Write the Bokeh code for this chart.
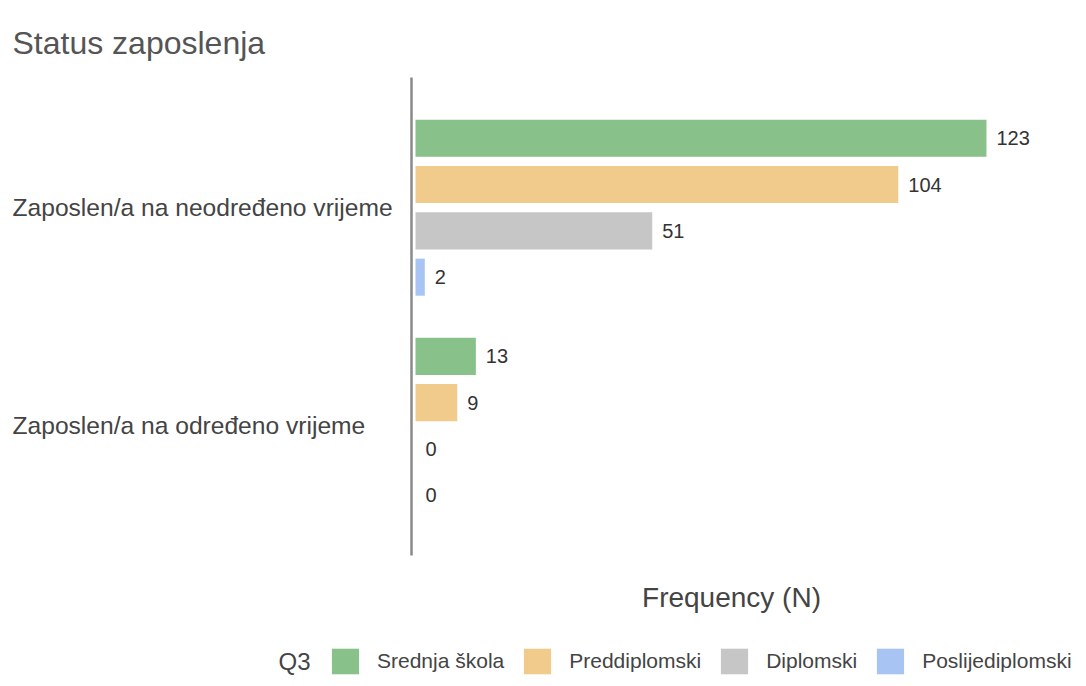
from bokeh.plotting import figure
from bokeh.models import ColumnDataSource, Range1d, Label, Legend, LegendItem
from bokeh.transform import dodge
from bokeh.embed import file_html
from bokeh.resources import INLINE
from bokeh.core.properties import value

# ---- data ----
title_text = "Status zaposlenja"
categories = ["Zaposlen/a na neodređeno vrijeme", "Zaposlen/a na određeno vrijeme"]
series_names = ["Srednja škola", "Preddiplomski", "Diplomski", "Poslijediplomski"]
series_values = [
    [123, 13],   # Srednja škola
    [104, 9],    # Preddiplomski
    [51, 0],     # Diplomski
    [2, 0],      # Poslijediplomski
]
series_colors = ["#88c28a", "#f0cb8c", "#c6c6c6", "#a7c4f2"]
x_label = "Frequency (N)"
legend_title = "Q3"

FONT = "Liberation Sans"
W, H = 1078, 678

# category positions (top to bottom)
cat_pos = [2, 1]

# layout constants (in data units of the full-canvas frame)
PX_X = 4.642            # pixels per frequency unit
PX_Y = 218.1            # pixels per category step
X0_PX = 415.0           # pixel column of x = 0
Y2_PX = 207.2           # pixel row of the first category
x_start = -X0_PX / PX_X
x_end = (W - X0_PX) / PX_X
y_top = cat_pos[0] + Y2_PX / PX_Y
y_bot = cat_pos[0] - (H - Y2_PX) / PX_Y


def px_to_y(py):
    return cat_pos[0] - (py - Y2_PX) / PX_Y


def px_to_x(px):
    return (px - X0_PX) / PX_X


p = figure(width=W, height=H, output_backend="svg", toolbar_location=None,
           x_range=Range1d(x_start, x_end), y_range=Range1d(y_bot, y_top),
           min_border=0, x_axis_location=None, y_axis_location=None)
p.outline_line_color = None
p.xgrid.visible = False
p.ygrid.visible = False
p.background_fill_color = "white"
p.border_fill_color = "white"

# vertical axis line
axis_x = px_to_x(411)
p.segment(x0=[axis_x], x1=[axis_x], y0=[px_to_y(555)], y1=[px_to_y(77)],
          line_color="#8a8a8a", line_width=2.5)

bar_h = 0.17
step = 0.2123
items = []
for i, (name, vals, col) in enumerate(zip(series_names, series_values, series_colors)):
    off = (1.5 - i) * step
    src = ColumnDataSource(dict(pos=cat_pos, val=vals, lab=[str(v) for v in vals]))
    r = p.hbar(y=dodge("pos", off, range=p.y_range), left=0, right="val",
               height=bar_h, fill_color=col, line_color=None, source=src)
    p.text(x="val", y=dodge("pos", off, range=p.y_range), text="lab", source=src,
           x_offset=10, text_baseline="middle", text_align="left",
           text_font=value(FONT), text_font_size="20px", text_color="#333333")
    items.append(LegendItem(label=name, renderers=[r]))

# category labels (left aligned at the page's left)
left_x = px_to_x(12)
for c, y in zip(categories, cat_pos):
    p.add_layout(Label(x=left_x, y=y, text=c, text_align="left", text_baseline="middle",
                       text_font=FONT, text_font_size="24.6px", text_color="#444444"))

# chart title
p.add_layout(Label(x=left_x, y=px_to_y(42), text=title_text,
                   text_align="left", text_baseline="alphabetic", text_font=FONT,
                   text_font_size="32px", text_color="#555555"))

# x axis title, centred under the plot area
p.add_layout(Label(x=px_to_x(731), y=px_to_y(597),
                   text=x_label, text_align="center", text_baseline="middle",
                   text_font=FONT, text_font_size="28px", text_color="#444444"))

# legend with its title on the left
legend_mid_px = 661
p.add_layout(Label(x=px_to_x(278), y=px_to_y(legend_mid_px), text=legend_title,
                   text_align="left", text_baseline="middle", text_font=FONT,
                   text_font_size="24px", text_color="#444444"))
legend = Legend(items=items, orientation="horizontal", location=(328, 1),
                label_text_font=FONT, label_text_font_size="21px",
                label_text_color="#444444",
                glyph_width=34, glyph_height=32, label_standoff=15, spacing=16,
                padding=0, margin=0, border_line_color=None,
                background_fill_alpha=0)
p.add_layout(legend, "center")

open("out.html", "w").write(file_html(p, INLINE))
